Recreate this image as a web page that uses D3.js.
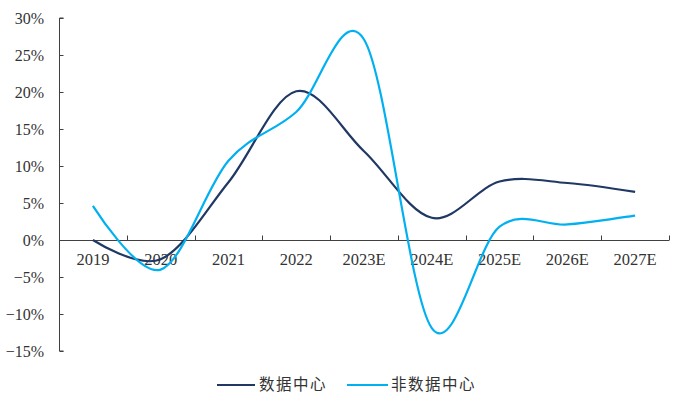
<!DOCTYPE html>
<html>
<head>
<meta charset="utf-8">
<script src="https://cdn.jsdelivr.net/npm/d3@7"></script>
<style>
  html, body { margin: 0; padding: 0; background: #fff; }
  svg { display: block; }
</style>
</head>
<body>
<svg id="chart" width="680" height="396"></svg>
<script>
// Growth rates (%) by year, data-centre vs non-data-centre
const years = ["2019", "2020", "2021", "2022", "2023E", "2024E", "2025E", "2026E", "2027E"];
const dataCenter = [0.0, -2.6, 7.8, 20.1, 12.0, 3.0, 7.9, 7.7, 6.5];
const nonDataCenter = [4.6, -4.0, 10.7, 17.3, 27.1, -11.9, 1.8, 2.1, 3.3];
const yTicks = [-15, -10, -5, 0, 5, 10, 15, 20, 25, 30];
const seriesNames = ["数据中心", "非数据中心"];
const seriesColors = ["#1f3864", "#00b0f0"];

const svg = d3.select("#chart");
const plotLeft = 59, plotRight = 669, plotTop = 18, plotBottom = 351;

const x = d3.scaleBand().domain(years).range([plotLeft, plotRight]).padding(0);
const y = d3.scaleLinear().domain([-15, 30]).range([plotBottom, plotTop]);

const axisColor = "#404040";
const textColor = "#333";
const serif = "'Liberation Serif', 'Times New Roman', serif";

// Y axis: ticks pointing into the plot
const yAxis = svg.append("g")
  .attr("transform", `translate(${plotLeft + 0.5},0)`)
  .call(d3.axisRight(y).tickValues(yTicks).tickSize(4).tickFormat(""));
yAxis.select(".domain").attr("stroke", axisColor).attr("d", `M4,${y(-15)}H0V${y(30)}H4`);
yAxis.selectAll(".tick line").attr("stroke", axisColor);

svg.append("g").selectAll("text")
  .data(yTicks)
  .join("text")
  .attr("x", 44)
  .attr("y", d => y(d))
  .attr("dy", "0.35em")
  .attr("text-anchor", "end")
  .attr("font-family", serif)
  .attr("font-size", 16)
  .attr("fill", textColor)
  .text(d => (d < 0 ? "\u2212" + Math.abs(d) : d) + "%");

// X axis along zero with category boundary ticks pointing up
const bounds = years.map(d => x(d)).concat([plotRight]).slice(1);
const y0 = Math.round(y(0)) + 0.5;
svg.append("line")
  .attr("x1", plotLeft).attr("x2", plotRight)
  .attr("y1", y0).attr("y2", y0)
  .attr("stroke", axisColor).attr("stroke-width", 1);
svg.append("g").selectAll("line")
  .data(bounds)
  .join("line")
  .attr("x1", d => Math.round(d) + 0.5).attr("x2", d => Math.round(d) + 0.5)
  .attr("y1", y0).attr("y2", y0 - 5)
  .attr("stroke", axisColor);

svg.append("g").selectAll("text")
  .data(years)
  .join("text")
  .attr("x", d => x(d) + x.bandwidth() / 2)
  .attr("y", 265)
  .attr("text-anchor", "middle")
  .attr("font-family", serif)
  .attr("font-size", 16.5)
  .attr("fill", textColor)
  .text(d => d);

// Smoothed series lines
const line = d3.line()
  .x((d, i) => x(years[i]) + x.bandwidth() / 2)
  .y(d => y(d))
  .curve(d3.curveCardinal.tension(0));

[dataCenter, nonDataCenter].forEach((vals, k) => {
  svg.append("path")
    .datum(vals)
    .attr("fill", "none")
    .attr("stroke", seriesColors[k])
    .attr("stroke-width", 2.2)
    .attr("stroke-linejoin", "round")
    .attr("d", line);
});

// Legend
const legendItems = [
  { x1: 217, x2: 255, tx: 259 },
  { x1: 347, x2: 388, tx: 391 }
];
const legend = svg.append("g");
legendItems.forEach((it, k) => {
  legend.append("line")
    .attr("x1", it.x1).attr("x2", it.x2)
    .attr("y1", 385).attr("y2", 385)
    .attr("stroke", seriesColors[k]).attr("stroke-width", 2.2);
  legend.append("text")
    .attr("x", it.tx).attr("y", 385)
    .attr("dy", "0.35em")
    .attr("font-family", "'Noto Sans CJK SC', sans-serif")
    .attr("font-size", 15.5)
    .attr("letter-spacing", 1.5)
    .attr("fill", textColor)
    .text(seriesNames[k]);
});
</script>
</body>
</html>
